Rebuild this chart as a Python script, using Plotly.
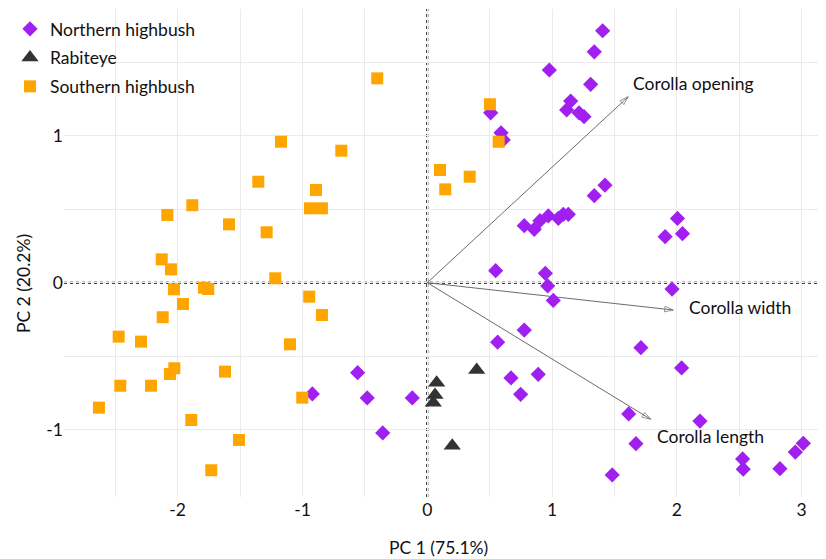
import plotly.graph_objects as go

# ---- data (PC scores) ----
northern_x = [1.405, 1.338, 0.978, 1.309, 1.149, 1.117, 1.216, 1.256, 0.508, 0.591, 0.609,
              1.424, 1.338, 0.777, 0.857, 0.903, 0.970, 1.050, 1.090, 1.130, 2.005, 1.906,
              2.045, 0.548, 0.946, 0.965, 1.010, 1.961, 0.777, 0.564, 1.712, 2.038, 0.889,
              0.671, 0.748, -0.558, -0.921, -0.481, -0.120, -0.357, 1.614, 2.185, 1.672,
              1.482, 2.527, 2.532, 2.826, 2.949, 3.013]
northern_y = [1.714, 1.571, 1.447, 1.350, 1.236, 1.175, 1.156, 1.129, 1.156, 1.020, 0.971,
              0.663, 0.592, 0.388, 0.363, 0.422, 0.454, 0.438, 0.465, 0.465, 0.437, 0.313,
              0.333, 0.082, 0.064, -0.022, -0.121, -0.043, -0.322, -0.405, -0.442, -0.580, -0.623,
              -0.648, -0.759, -0.612, -0.757, -0.784, -0.784, -1.022, -0.893, -0.941, -1.095,
              -1.308, -1.199, -1.269, -1.265, -1.152, -1.093]

rabiteye_x = [0.075, 0.396, 0.062, 0.048, 0.200]
rabiteye_y = [-0.680, -0.594, -0.764, -0.816, -1.109]

southern_x = [-0.401, 0.502, 0.572, 0.102, 0.340, 0.144, -1.172, -0.689, -1.354, -0.892,
              -0.940, -0.844, -1.883, -2.083, -1.589, -1.287, -2.128, -2.054, -2.030, -1.789,
              -1.755, -1.958, -2.120, -1.218, -0.946, -0.844, -1.100, -2.473, -2.294, -2.027,
              -2.062, -1.621, -2.460, -2.214, -2.631, -1.002, -1.891, -1.509, -1.731]
southern_y = [1.390, 1.214, 0.959, 0.767, 0.721, 0.635, 0.959, 0.898, 0.687, 0.631,
              0.506, 0.506, 0.527, 0.461, 0.397, 0.343, 0.159, 0.091, -0.045, -0.034,
              -0.043, -0.145, -0.235, 0.030, -0.095, -0.220, -0.419, -0.367, -0.401, -0.582,
              -0.621, -0.605, -0.701, -0.701, -0.850, -0.782, -0.934, -1.070, -1.276]

loading_names = ["Corolla opening", "Corolla width", "Corolla length"]
loading_x = [1.61, 1.971, 1.79]
loading_y = [1.265, -0.186, -0.929]
label_x = [1.632, 2.081, 1.825]
label_y = [1.352, -0.172, -1.048]

x_ticks = [-2, -1, 0, 1, 2, 3]
y_ticks = [-1, 0, 1]
grid_x = [-2.5, -2, -1.5, -1, -0.5, 0, 0.5, 1, 1.5, 2, 2.5, 3]
grid_y = [-1, -0.5, 0, 0.5, 1, 1.5]

FONT = "Lato"
FS = 17.5
fig = go.Figure()

# loading arrows
for name, lx, ly in zip(loading_names, loading_x, loading_y):
    fig.add_trace(go.Scatter(
        x=[0, lx], y=[0, ly], mode="lines+markers", showlegend=False, hoverinfo="skip",
        line=dict(color="#6b6b6b", width=1),
        marker=dict(symbol="arrow-open", size=[0, 9], angleref="previous",
                    color="#6b6b6b", line=dict(width=1, color="#6b6b6b")),
    ))

fig.add_trace(go.Scatter(x=northern_x, y=northern_y, mode="markers", name="Northern highbush",
                         legendgroup="n",
                         marker=dict(symbol="diamond", size=9, color="#a020f0",
                                     line=dict(width=2.5, color="#a020f0"))))
fig.add_trace(go.Scatter(x=rabiteye_x, y=rabiteye_y, mode="markers", name="Rabiteye",
                         legendgroup="r",
                         marker=dict(symbol="triangle-up", size=15, color="#333333",
                                     line=dict(width=0))))
fig.add_trace(go.Scatter(x=southern_x, y=southern_y, mode="markers", name="Southern highbush",
                         legendgroup="s",
                         marker=dict(symbol="square", size=12, color="#ffa500",
                                     line=dict(width=0))))

for name, tx, ty in zip(loading_names, label_x, label_y):
    fig.add_annotation(x=tx, y=ty, text=name, showarrow=False, xanchor="left", yanchor="middle",
                       font=dict(family=FONT, size=FS, color="#111111"))

# dashed zero lines
fig.add_shape(type="line", xref="x", yref="paper", x0=0, x1=0, y0=0, y1=1, layer="between",
              line=dict(color="#000000", width=2, dash="3px,3px"))
fig.add_shape(type="line", xref="paper", yref="y", x0=0, x1=1, y0=0, y1=0, layer="between",
              line=dict(color="#000000", width=2, dash="3px,3px"))

# axis titles
fig.add_annotation(xref="paper", yref="paper", x=0.492, y=-0.104, text="PC 1 (75.1%)",
                   showarrow=False, yanchor="middle", font=dict(family=FONT, size=FS, color="#111111"))
fig.add_annotation(xref="paper", yref="paper", x=-0.054, y=0.438, text="PC 2 (20.2%)",
                   showarrow=False, textangle=-90, xanchor="center", yanchor="middle",
                   font=dict(family=FONT, size=FS, color="#111111"))

fig.update_layout(
    width=818, height=551,
    margin=dict(l=56, r=0, t=1, b=62),
    paper_bgcolor="white", plot_bgcolor="white",
    font=dict(family=FONT, size=FS, color="#111111"),
    showlegend=True,
    legend=dict(x=-0.0709, y=0.996, xanchor="left", yanchor="top", bgcolor="rgba(0,0,0,0)",
                font=dict(family=FONT, size=FS), tracegroupgap=3),
    xaxis=dict(range=[-2.911, 3.195], tickmode="array", tickvals=grid_x,
               ticktext=[str(v) if v in x_ticks else "" for v in grid_x],
               showgrid=True, gridcolor="#ebebeb", gridwidth=1, zeroline=False,
               showline=False, ticks="", tickfont=dict(size=FS)),
    yaxis=dict(range=[-1.458, 1.862], tickmode="array", tickvals=grid_y,
               ticktext=[str(v) if v in y_ticks else "" for v in grid_y],
               showgrid=True, gridcolor="#ebebeb", gridwidth=1, zeroline=False,
               showline=False, ticks="", tickfont=dict(size=FS), ticklabelstandoff=0),
)

fig.write_html("out.html")
